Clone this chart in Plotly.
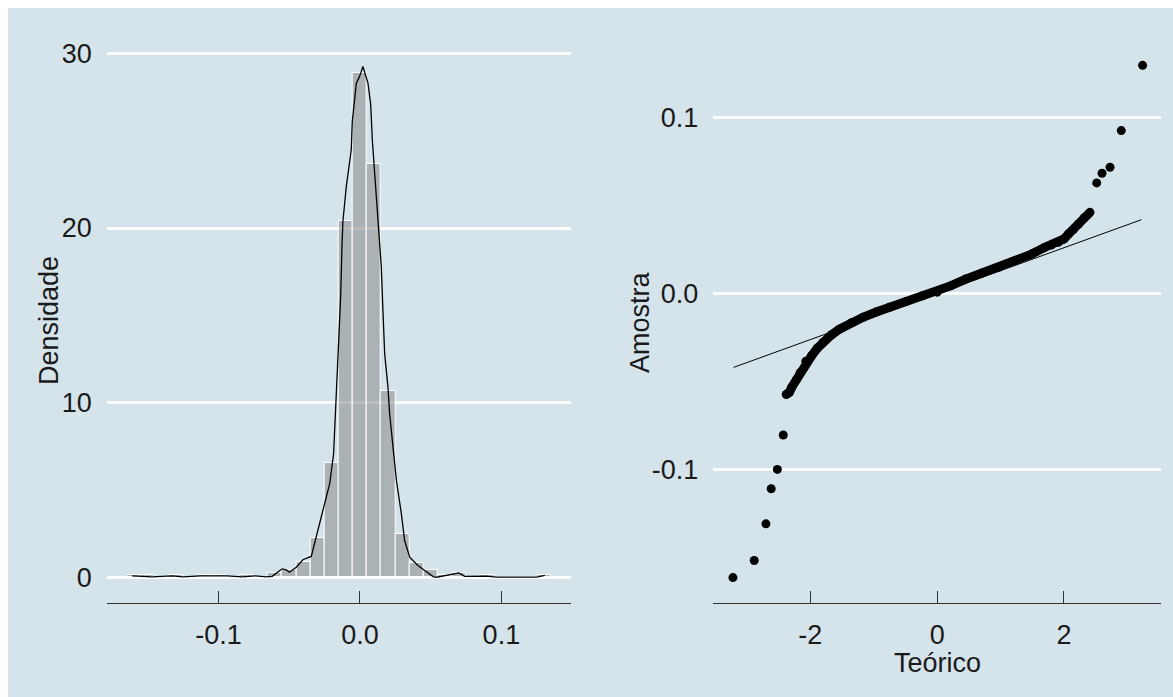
import plotly.graph_objects as go

# ---------------- data ----------------
# Histogram (density scale), bin centres (binwidth 0.01)
hist_bins = [-0.16, -0.15, -0.13, -0.11, -0.10, -0.08, -0.06, -0.05, -0.04, -0.03, -0.02, -0.01,
             0.00, 0.01, 0.02, 0.03, 0.04, 0.05, 0.06, 0.07, 0.09, 0.13]
hist_density = [0.13, 0.13, 0.13, 0.13, 0.13, 0.13, 0.26, 0.40, 0.86, 2.26, 6.53, 20.39,
                28.87, 23.68, 10.69, 2.45, 0.80, 0.40, 0.13, 0.26, 0.13, 0.13]

# Kernel density curve
dens_x = [-0.161, -0.147, -0.133, -0.125, -0.113, -0.094, -0.083, -0.074, -0.066, -0.062,
          -0.058, -0.055, -0.052, -0.0498, -0.045, -0.0403, -0.0344, -0.0309, -0.0262, -0.0214,
          -0.0186, -0.0174, -0.0156, -0.0144, -0.0136, -0.0127, -0.0120, -0.0096, -0.0078, -0.0061,
          -0.0054, -0.0037, -0.0025, -0.0002, 0.0021, 0.0057, 0.0076, 0.0088, 0.0109, 0.0127,
          0.0139, 0.0151, 0.0163, 0.0175, 0.0198, 0.0210, 0.0234, 0.0258, 0.0293, 0.0316,
          0.0352, 0.0410, 0.0458, 0.0517, 0.0543, 0.0599, 0.0670, 0.0699, 0.0741, 0.0889,
          0.0967, 0.1250, 0.1307]
dens_y = [0.08, 0.02, 0.08, 0.02, 0.08, 0.08, 0.02, 0.08, 0.02, 0.05,
          0.30, 0.48, 0.42, 0.29, 0.57, 1.00, 1.19, 2.29, 3.72, 5.35,
          7.07, 9.16, 12.2, 14.1, 16.1, 18.9, 20.4, 22.4, 23.5, 24.5,
          26.1, 27.3, 28.3, 28.7, 29.25, 28.3, 27.1, 25.0, 22.5, 20.4,
          19.3, 17.8, 15.2, 12.8, 10.9, 9.36, 7.45, 5.54, 3.63, 2.10,
          1.15, 0.67, 0.38, 0.04, 0.0, 0.10, 0.20, 0.25, 0.05, 0.06,
          0.01, 0.01, 0.10]

# QQ plot: isolated tail points (theoretical, sample)
qq_tail_x = [-3.22, -2.885, -2.70, -2.617, -2.52, -2.427, 2.516, 2.60, 2.726, 2.904, 3.24]
qq_tail_y = [-0.1612, -0.1515, -0.1307, -0.1108, -0.0998, -0.0803, 0.0628, 0.0683, 0.0717, 0.0925, 0.1295]

# QQ plot: dense central band of points
qq_band_x = [-2.38, -2.33, -2.29, -2.22, -2.16, -2.07, -1.98, -1.89, -1.80, -1.67, -1.54, -1.35,
             -1.17, -0.96, -0.75, -0.49, -0.23, 0.0, 0.22, 0.45, 0.71, 0.97, 1.23, 1.49,
             1.70, 1.80, 1.91, 2.00, 2.07, 2.15, 2.23, 2.32, 2.41]
qq_band_y = [-0.0573, -0.0560, -0.0530, -0.0490, -0.0449, -0.0384, -0.0353, -0.0310, -0.0277, -0.0235,
             -0.0202, -0.0165, -0.0135, -0.0105, -0.0078, -0.0045, -0.0013, 0.0008, 0.0045, 0.0082,
             0.0116, 0.0149, 0.0186, 0.0224, 0.0263, 0.0275, 0.0291, 0.0310, 0.0338, 0.0365,
             0.0395, 0.0430, 0.0461]

# QQ reference line
qq_line_x = [-3.21, 3.22]
qq_line_y = [-0.0419, 0.0419]

# tick labels
left_xticks = [-0.1, 0.0, 0.1]
left_xticktext = ["-0.1", "0.0", "0.1"]
left_yticks = [0, 10, 20, 30]
left_yticktext = ["0", "10", "20", "30"]
right_xticks = [-2, 0, 2]
right_xticktext = ["-2", "0", "2"]
right_yticks = [-0.1, 0.0, 0.1]
right_yticktext = ["-0.1", "0.0", "0.1"]

# ---------------- figure ----------------
W, H = 1173, 697
BG = "#d5e4eb"
TXT = "#1a1a1a"
FONT = "Liberation Sans, Arial, sans-serif"
FS = 27

fig = go.Figure()

fig.add_trace(go.Bar(
    x=hist_bins, y=hist_density, width=0.01,
    marker=dict(color="rgba(140,142,142,0.58)", line=dict(color="white", width=1)),
    xaxis="x", yaxis="y", showlegend=False, hoverinfo="skip"))

fig.add_trace(go.Scatter(
    x=dens_x, y=dens_y, mode="lines", line=dict(color="black", width=1.3),
    xaxis="x", yaxis="y", showlegend=False))

fig.add_trace(go.Scatter(
    x=qq_band_x, y=qq_band_y, mode="lines+markers",
    line=dict(color="black", width=9),
    marker=dict(color="black", size=9),
    xaxis="x2", yaxis="y2", showlegend=False))

fig.add_trace(go.Scatter(
    x=qq_tail_x, y=qq_tail_y, mode="markers",
    marker=dict(color="black", size=9),
    xaxis="x2", yaxis="y2", showlegend=False))

fig.add_trace(go.Scatter(
    x=qq_line_x, y=qq_line_y, mode="lines", line=dict(color="black", width=1),
    xaxis="x2", yaxis="y2", showlegend=False))

ytop, ybot = 40.0, 602.8
ydom = [1 - ybot / H, 1 - ytop / H]

common_x = dict(showgrid=False, zeroline=False, showline=True, linecolor="#333333", linewidth=1.3,
                ticks="inside", ticklen=12, tickwidth=1.3, tickcolor="#333333",
                tickfont=dict(family=FONT, size=FS, color=TXT), automargin=False,
                ticklabelstandoff=8)
common_y = dict(showgrid=True, gridcolor="white", gridwidth=2.6, zeroline=False, showline=False,
                ticks="", tickfont=dict(family=FONT, size=FS, color=TXT), automargin=False,
                ticklabelstandoff=14)

fig.update_layout(
    width=W, height=H,
    margin=dict(l=0, r=0, t=0, b=0),
    paper_bgcolor="white", plot_bgcolor="rgba(0,0,0,0)",
    bargap=0,
    xaxis=dict(domain=[106.7 / W, 570.7 / W], range=[-0.179, 0.149],
               tickvals=left_xticks, ticktext=left_xticktext, anchor="y", **common_x),
    yaxis=dict(domain=ydom, range=[-1.465, 30.77], tickvals=left_yticks,
               ticktext=left_yticktext, anchor="x", **common_y),
    xaxis2=dict(domain=[713.3 / W, 1161.0 / W], range=[-3.53, 3.53],
                tickvals=right_xticks, ticktext=right_xticktext, anchor="y2", **common_x),
    yaxis2=dict(domain=ydom, range=[-0.1755, 0.1439], tickvals=right_yticks,
                ticktext=right_yticktext, anchor="x2", **common_y),
    shapes=[dict(type="rect", xref="paper", yref="paper", x0=8 / W, x1=1, y0=0, y1=1 - 8 / H,
                 fillcolor=BG, line=dict(width=0), layer="below")],
    annotations=[
        dict(text="Densidade", xref="paper", yref="paper", x=49 / W, y=1 - 321 / H,
             textangle=-90, showarrow=False, xanchor="center", yanchor="middle",
             font=dict(family=FONT, size=FS, color=TXT)),
        dict(text="Amostra", xref="paper", yref="paper", x=640 / W, y=1 - 322 / H,
             textangle=-90, showarrow=False, xanchor="center", yanchor="middle",
             font=dict(family=FONT, size=FS, color=TXT)),
        dict(text="Teórico", xref="paper", yref="paper", x=937 / W, y=1 - 663 / H,
             showarrow=False, xanchor="center", yanchor="middle",
             font=dict(family=FONT, size=FS, color=TXT)),
    ],
)

fig.write_html("out.html")
